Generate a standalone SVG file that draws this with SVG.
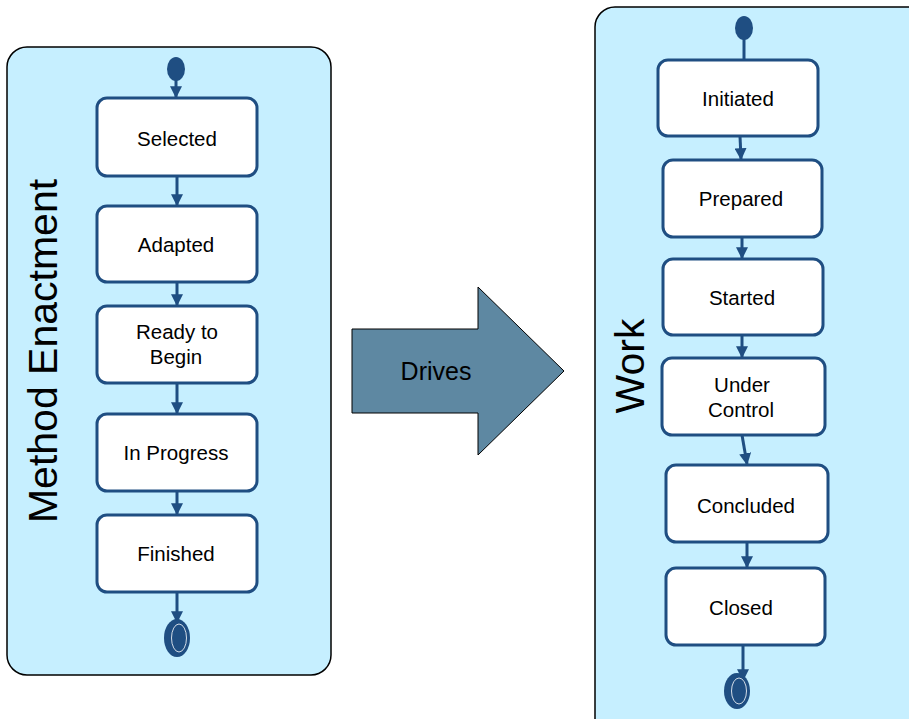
<svg xmlns="http://www.w3.org/2000/svg" width="909" height="719" viewBox="0 0 909 719">
<defs>
<style>
.cont{fill:#c6efff;stroke:#000;stroke-width:1.5}
.node rect{fill:#fff;stroke:#1f4e82;stroke-width:3}
.node text{font-family:"Liberation Sans",Arial,sans-serif;font-size:20.5px;fill:#000;text-anchor:middle}
.title{font-family:"Liberation Sans",Arial,sans-serif;font-size:41px;fill:#000;text-anchor:middle}
.conn line{stroke:#1f4e82;stroke-width:3}
.pt{fill:#1f4e82}
</style>
<marker id="ah" viewBox="0 0 10 10" refX="9" refY="5" markerWidth="4" markerHeight="4" orient="auto" markerUnits="strokeWidth">
<path d="M0,0 L10,5 L0,10 z" fill="#1f4e82"/>
</marker>
</defs>
<rect width="909" height="719" fill="#fff"/>
<g id="method-enactment">
<rect class="cont" x="7" y="47" width="324" height="628" rx="20"/>
<text class="title" transform="translate(57,351) rotate(-90)">Method Enactment</text>
</g>
<g id="work">
<rect class="cont" x="595" y="7" width="340" height="740" rx="20"/>
<text class="title" transform="translate(644,366) rotate(-90)">Work</text>
</g>
<g id="drives">
<path d="M352,329 L478,329 L478,287 L564,371 L478,455 L478,413 L352,413 Z" fill="#5e88a2" stroke="#000" stroke-width="1"/>
<text x="436" y="380" font-family="Liberation Sans,Arial,sans-serif" font-size="25" text-anchor="middle" fill="#000">Drives</text>
</g>
<g id="connectors" class="conn">
<line x1="176" y1="80" x2="176" y2="97" marker-end="url(#ah)"/>
<line x1="177" y1="176" x2="177" y2="205" marker-end="url(#ah)"/>
<line x1="177" y1="282" x2="177" y2="305" marker-end="url(#ah)"/>
<line x1="177" y1="383" x2="177" y2="413" marker-end="url(#ah)"/>
<line x1="177" y1="491" x2="177" y2="514" marker-end="url(#ah)"/>
<line x1="177" y1="592" x2="177" y2="622" marker-end="url(#ah)"/>
<line x1="744" y1="38" x2="744" y2="60"/>
<line x1="740" y1="136" x2="741" y2="159" marker-end="url(#ah)"/>
<line x1="742" y1="237" x2="742" y2="258" marker-end="url(#ah)"/>
<line x1="742" y1="335" x2="742" y2="357" marker-end="url(#ah)"/>
<line x1="742" y1="435" x2="747" y2="464" marker-end="url(#ah)"/>
<line x1="747" y1="542" x2="747" y2="567" marker-end="url(#ah)"/>
<line x1="743" y1="645" x2="743" y2="680" marker-end="url(#ah)"/>
</g>
<g id="start-left"><ellipse class="pt" cx="176" cy="69" rx="9" ry="12"/></g>
<g id="end-left"><ellipse class="pt" cx="177" cy="638" rx="13" ry="19"/><ellipse cx="179" cy="638" rx="7.5" ry="14" fill="none" stroke="#fff" stroke-width="0.8"/></g>
<g id="start-right"><ellipse class="pt" cx="744" cy="28" rx="9" ry="12"/></g>
<g id="end-right"><ellipse class="pt" cx="737" cy="691" rx="13" ry="18"/><ellipse cx="739" cy="691" rx="7.5" ry="13" fill="none" stroke="#fff" stroke-width="0.8"/></g>
<g id="selected" class="node"><rect x="97" y="98" width="160" height="78" rx="10"/><text x="177" y="146">Selected</text></g>
<g id="adapted" class="node"><rect x="97" y="206" width="160" height="76" rx="10"/><text x="176" y="252">Adapted</text></g>
<g id="ready" class="node"><rect x="97" y="306" width="160" height="77" rx="10"/><text x="177" y="339">Ready to</text><text x="176" y="364">Begin</text></g>
<g id="inprogress" class="node"><rect x="97" y="414" width="160" height="77" rx="10"/><text x="176" y="460">In Progress</text></g>
<g id="finished" class="node"><rect x="97" y="515" width="160" height="77" rx="10"/><text x="176" y="561">Finished</text></g>
<g id="initiated" class="node"><rect x="658" y="60" width="160" height="76" rx="10"/><text x="738" y="106">Initiated</text></g>
<g id="prepared" class="node"><rect x="663" y="160" width="159" height="77" rx="10"/><text x="741" y="206">Prepared</text></g>
<g id="started" class="node"><rect x="663" y="259" width="160" height="76" rx="10"/><text x="742" y="305">Started</text></g>
<g id="undercontrol" class="node"><rect x="662" y="358" width="163" height="77" rx="10"/><text x="742" y="392">Under</text><text x="741" y="417">Control</text></g>
<g id="concluded" class="node"><rect x="666" y="465" width="162" height="77" rx="10"/><text x="746" y="513">Concluded</text></g>
<g id="closed" class="node"><rect x="666" y="568" width="159" height="77" rx="10"/><text x="741" y="615">Closed</text></g>
</svg>
